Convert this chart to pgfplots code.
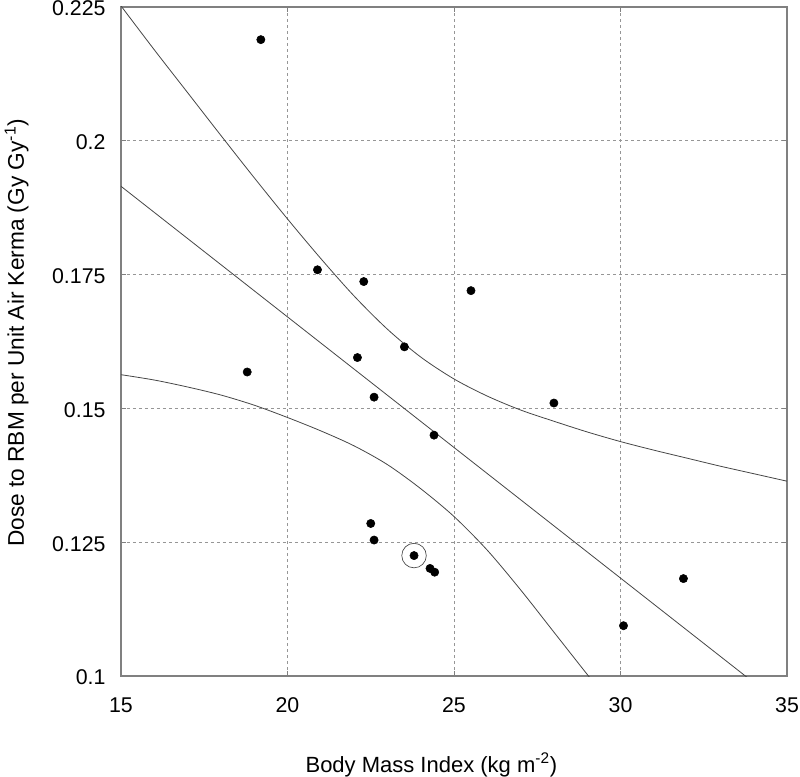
\documentclass[border=0pt]{standalone}
\usepackage{fontspec}
\setmainfont{Liberation Sans}
\usepackage{pgfplots}
\pgfplotsset{compat=1.18}
\definecolor{framegray}{RGB}{128,128,128}
\definecolor{gridgray}{RGB}{150,150,150}
\definecolor{curvegray}{RGB}{70,70,70}
\begin{document}
\begin{tikzpicture}
\begin{axis}[
  name=ax,
  scale only axis,
  width=499.5pt, height=501.75pt,
  xmin=15, xmax=35, ymin=0.1, ymax=0.225,
  xtick={15,20,25,30,35},
  ytick={0.1,0.125,0.15,0.175,0.2,0.225},
  yticklabels={0.1,0.125,0.15,0.175,0.2,0.225},
  /pgf/number format/assume math mode=true,
  tick pos=both, tick align=inside,
  major tick length=3.75pt,
  axis line style={framegray, line width=0.9pt},
  every tick/.style={framegray, line width=0.6pt},
  grid=major,
  major grid style={gridgray, line width=0.6pt, dash pattern=on 2pt off 2.5pt},
  tick label style={font=\fontsize{16}{19}\selectfont},
  xticklabel style={yshift=-12.6pt},
  yticklabel style={xshift=-8.1pt, yshift=-1.2pt},
  xlabel={Body Mass Index (kg m\textsuperscript{-2})},
  ylabel={Dose to RBM per Unit Air Kerma (Gy Gy\textsuperscript{-1})},
  xlabel style={font=\fontsize{16.5}{19}\selectfont, at={(axis description cs:0.466,0)}, anchor=base, yshift=-72pt},
  ylabel style={font=\fontsize{17}{20}\selectfont, at={(axis description cs:-0.1457,0.513)}, anchor=base, rotate=0},
  clip=true,
]
% regression line
\addplot[curvegray, line width=0.6pt] coordinates {(15,0.1915) (35,0.0939)};
% upper confidence band
\addplot[curvegray, line width=0.6pt, smooth] coordinates {
(15,0.2252) (16,0.2170) (17,0.2090) (18,0.2010) (19,0.1931) (20,0.1854)
(21,0.1780) (22,0.1710) (23,0.1648) (24,0.1596) (25,0.1555) (26,0.1523)
(27,0.1497) (28,0.1476) (29,0.1456) (30,0.1438) (31,0.1422) (32,0.1407)
(33,0.1392) (34,0.1378) (35,0.1364)};
% lower confidence band
\addplot[curvegray, line width=0.6pt, smooth] coordinates {
(15,0.1563) (16,0.1553) (17,0.1540) (18,0.1525) (19,0.1506) (20,0.1483)
(21,0.1458) (22,0.1430) (23,0.1395) (24,0.1350) (25,0.1298) (26,0.1235)
(27,0.1161) (28,0.1082) (29,0.1003) (30,0.0925) (31,0.0845)};
% data points
\addplot[only marks, mark=*, mark size=3.1pt, black] coordinates {
(19.20,0.2189) (20.90,0.1759) (22.29,0.1737) (25.51,0.1720) (23.51,0.1615)
(22.10,0.1595) (22.60,0.1521) (24.40,0.1450) (18.79,0.1568) (28.00,0.1510)
(22.50,0.1285) (22.60,0.1254) (23.80,0.1225) (24.28,0.1201) (24.42,0.1194)
(31.89,0.1182) (30.09,0.1094)};
% highlighted point
\addplot[only marks, mark=o, mark size=9.2pt, curvegray, line width=0.5pt] coordinates {(23.80,0.1225)};
\end{axis}
\pgfresetboundingbox
\path ([shift={(-90.75pt,-75pt)}]ax.south west) rectangle ([shift={(9.75pt,5.25pt)}]ax.north east);
\end{tikzpicture}
\end{document}
